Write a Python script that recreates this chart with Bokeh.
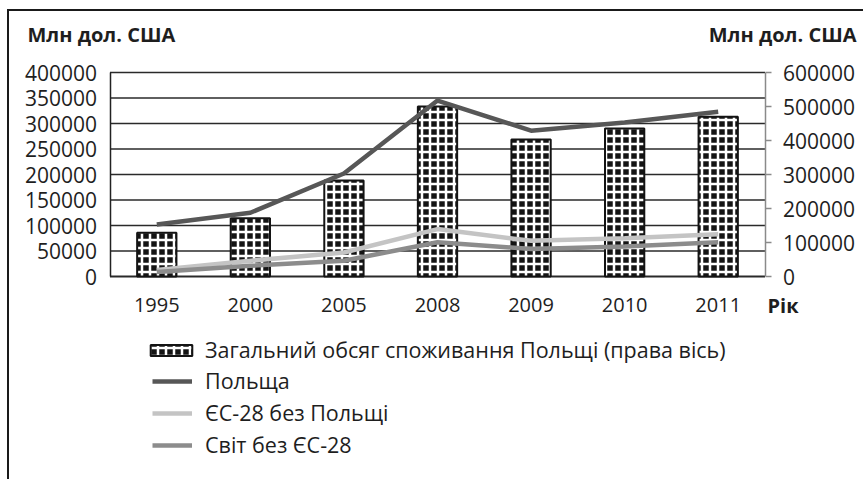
from bokeh.plotting import figure
from bokeh.models import (Range1d, FactorRange, LinearAxis, FixedTicker, BasicTickFormatter,
                          Legend, LegendItem, Label)
from bokeh.embed import file_html
from bokeh.resources import INLINE

years = ["1995", "2000", "2005", "2008", "2009", "2010", "2011"]
total_consumption = [129000, 171000, 282000, 500000, 403000, 435000, 470000]  # right axis
poland = [102000, 125000, 202000, 345000, 286000, 302000, 323000]
eu28_wo_poland = [13000, 31000, 47000, 93000, 70000, 75000, 83000]
world_wo_eu28 = [9000, 21000, 31000, 67000, 54000, 59000, 67000]

left_ticks = [0, 50000, 100000, 150000, 200000, 250000, 300000, 350000, 400000]
right_ticks = [0, 100000, 200000, 300000, 400000, 500000, 600000]

title_text = "Млн дол. США"
x_title = "Рік"
legend_labels = ["Загальний обсяг споживання Польщі (права вісь)", "Польща",
                 "ЄС-28 без Польщі", "Світ без ЄС-28"]

FONT = "Open Sans"
TXT = "#1e1e1e"

# layout (pixels): canvas and the plotting area inside it
W, H = 856, 470
AREA_L, AREA_W, AREA_R = 101, 655, 100
AREA_T, AREA_H, AREA_B = 61, 204, 205
LMAX, RMAX = left_ticks[-1], right_ticks[-1]
ul, ur = LMAX / AREA_H, RMAX / AREA_H
n = len(years)

x_range = FactorRange(*years, range_padding=(AREA_L + AREA_R) / AREA_W,
                      range_padding_units="percent")
p = figure(x_range=x_range, y_range=Range1d(-AREA_B * ul, LMAX + AREA_T * ul),
           width=W, height=H, min_border=0,
           output_backend="svg", toolbar_location=None)
p.styles = {"border-left": "2px solid #1a1a1a", "border-top": "2px solid #1a1a1a",
            "margin-left": "7px", "margin-top": "9px"}
p.outline_line_color = None
p.extra_y_ranges = {"right": Range1d(-AREA_B * ur, RMAX + AREA_T * ur)}
p.xgrid.visible = False
p.ygrid.visible = False

# horizontal grid lines at the left-axis ticks, across the category span
grid_w = [2.0 if t == 0 else 1.3 for t in left_ticks]
p.segment(x0=[0] * len(left_ticks), x1=[n] * len(left_ticks), y0=left_ticks, y1=left_ticks,
          line_color="#2a2a2a", line_width=grid_w)

bars = p.vbar(x=years, top=total_consumption, width=0.42, bottom=0, y_range_name="right",
              fill_color="#141414", line_color="#141414", line_width=2,
              hatch_pattern="+", hatch_color="white", hatch_scale=8, hatch_weight=2.5)

l_pol = p.line(years, poland, line_color="#575757", line_width=4.5)
l_eu = p.line(years, eu28_wo_poland, line_color="#c4c4c4", line_width=4.5)
l_w = p.line(years, world_wo_eu28, line_color="#8c8c8c", line_width=4.5)

# axes
xa = p.xaxis[0]
xa.fixed_location = 0
xa.axis_line_color = None
xa.major_tick_line_color = None
xa.minor_tick_line_color = None
xa.major_label_standoff = 15
xa.major_label_text_font = FONT
xa.major_label_text_font_size = "20px"
xa.major_label_text_color = TXT

ya = p.yaxis[0]
ya.fixed_location = 0
ya.bounds = (0, LMAX)
ya.ticker = FixedTicker(ticks=left_ticks)
ya.formatter = BasicTickFormatter(use_scientific=False)
ya.major_tick_line_color = None
ya.minor_tick_line_color = None
ya.axis_line_color = "#222222"
ya.axis_line_width = 1.5
ya.major_label_standoff = 7
ya.major_label_text_font = FONT
ya.major_label_text_font_size = "21px"
ya.major_label_text_color = TXT

ra = LinearAxis(y_range_name="right", ticker=FixedTicker(ticks=right_ticks),
                formatter=BasicTickFormatter(use_scientific=False))
ra.fixed_location = n
ra.bounds = (0, RMAX)
ra.axis_line_color = "#8a8a8a"
ra.axis_line_width = 1.5
ra.major_tick_line_color = "#8a8a8a"
ra.major_tick_line_width = 1.5
ra.major_tick_in = 0
ra.major_tick_out = 6
ra.minor_tick_line_color = None
ra.major_label_standoff = 12
ra.major_label_text_font = FONT
ra.major_label_text_font_size = "21px"
ra.major_label_text_color = TXT
p.add_layout(ra, "right")

# captions (screen px from the canvas' bottom-left corner)
def caption(x, y, text, align):
    p.add_layout(Label(x=x, y=y, x_units="screen", y_units="screen", text=text,
                       text_align=align, text_baseline="middle", text_font=FONT,
                       text_font_style="bold", text_font_size="20px", text_color=TXT))

caption(18, 447, title_text, "left")
caption(847, 447, title_text, "right")
caption(758, 176, x_title, "left")

base = dict(padding=0, margin=0, border_line_color=None, background_fill_alpha=0,
            label_text_font=FONT, label_text_color=TXT, label_height=20,
            label_text_font_size="21.5px")
leg1 = Legend(items=[LegendItem(label=legend_labels[0], renderers=[bars])],
              location=(136, 117), glyph_width=52, glyph_height=14, label_standoff=8, **base)
leg2 = Legend(items=[LegendItem(label=legend_labels[1], renderers=[l_pol]),
                     LegendItem(label=legend_labels[2], renderers=[l_eu]),
                     LegendItem(label=legend_labels[3], renderers=[l_w])],
              location=(143, 22), glyph_width=40, glyph_height=20, label_standoff=13,
              spacing=3, **base)
p.add_layout(leg1, "center")
p.add_layout(leg2, "center")

open("out.html", "w").write(file_html(p, INLINE))
